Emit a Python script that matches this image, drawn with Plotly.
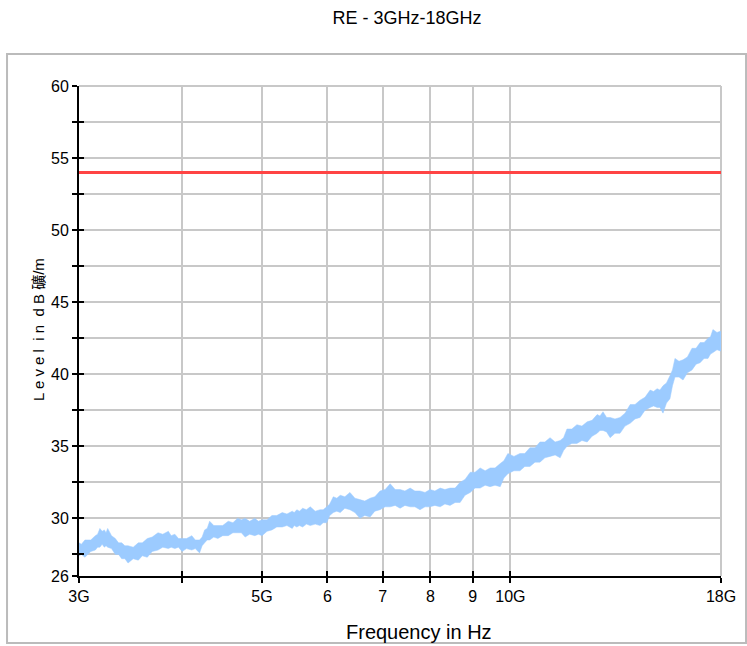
import plotly.graph_objects as go

# Frequency in GHz (peak samples of the noisy trace)
freq_ghz = [3.00, 3.05, 3.14, 3.18, 3.22, 3.25, 3.32, 3.38, 3.44, 3.54, 3.63, 3.74, 3.85, 3.92,
            4.00, 4.11, 4.20, 4.26, 4.32, 4.42, 4.55, 4.67, 4.77, 4.90, 5.00, 5.14, 5.29, 5.44,
            5.51, 5.60, 5.72, 5.88, 5.99, 6.10, 6.22, 6.39, 6.57, 6.76, 6.95, 7.15, 7.35, 7.56,
            7.77, 7.99, 8.22, 8.45, 8.69, 8.94, 9.19, 9.45, 9.72, 9.93, 10.27, 10.56, 10.86,
            11.17, 11.49, 11.71, 12.04, 12.39, 12.74, 12.95, 13.21, 13.58, 13.97, 14.36, 14.77,
            15.06, 15.31, 15.61, 15.83, 16.19, 16.60, 16.98, 17.36, 17.60, 18.00]

level_hi = [28.3, 28.5, 28.8, 29.3, 29.2, 29.3, 28.6, 28.3, 28.1, 28.3, 28.6, 29.0, 29.1, 28.9,
            28.6, 28.8, 28.5, 29.2, 29.8, 29.5, 29.8, 30.0, 30.0, 30.0, 29.9, 30.2, 30.4, 30.5,
            30.6, 30.7, 30.8, 30.6, 30.8, 31.5, 31.6, 31.8, 31.3, 31.4, 31.9, 32.4, 32.0, 32.1,
            31.9, 32.0, 32.1, 32.1, 32.5, 33.2, 33.5, 33.5, 33.8, 34.5, 34.5, 34.9, 35.3,
            35.6, 35.4, 36.2, 36.5, 36.7, 37.2, 37.4, 37.0, 37.0, 37.9, 38.2, 38.9,
            39.0, 39.2, 39.9, 41.1, 41.0, 41.8, 42.2, 42.5, 43.1, 43.0]

level_lo = [27.4, 27.3, 27.8, 28.0, 28.0, 28.0, 27.5, 27.2, 26.9, 27.1, 27.3, 27.8, 27.9, 27.9,
            27.7, 27.8, 27.6, 28.3, 28.5, 28.6, 28.8, 29.0, 28.7, 28.8, 28.8, 29.2, 29.4, 29.3,
            29.4, 29.4, 29.5, 29.5, 29.7, 30.4, 30.4, 30.6, 30.0, 30.1, 30.6, 30.8, 30.7, 30.8,
            30.6, 30.8, 30.8, 30.9, 31.1, 31.8, 32.1, 32.2, 32.2, 33.1, 33.3, 33.6, 33.9,
            34.3, 34.2, 35.0, 35.2, 35.3, 35.9, 36.1, 35.6, 35.9, 36.6, 37.0, 37.7,
            37.7, 37.3, 38.3, 39.8, 39.6, 40.3, 40.8, 41.1, 41.5, 41.6]

# In-between samples (inner edge of the noise band)
freq_mid = [3.02, 3.10, 3.16, 3.20, 3.235, 3.285, 3.35, 3.41, 3.49, 3.58, 3.68, 3.79, 3.88, 3.96,
            4.05, 4.15, 4.23, 4.29, 4.37, 4.48, 4.61, 4.72, 4.83, 4.95, 5.07, 5.21, 5.36, 5.47,
            5.55, 5.66, 5.80, 5.93, 6.04, 6.16, 6.30, 6.48, 6.66, 6.85, 7.05, 7.25, 7.45, 7.66,
            7.88, 8.10, 8.33, 8.57, 8.81, 9.06, 9.32, 9.58, 9.82, 10.10, 10.41, 10.71, 11.01,
            11.33, 11.60, 11.87, 12.21, 12.56, 12.84, 13.08, 13.39, 13.77, 14.16, 14.56, 14.91,
            15.18, 15.46, 15.72, 16.01, 16.39, 16.79, 17.17, 17.48, 17.80]

mid_hi = [28.2, 28.5, 28.9, 29.1, 29.0, 28.8, 28.3, 28.1, 28.0, 28.3,
          28.7, 28.9, 28.8, 28.6, 28.6, 28.5, 28.7, 29.3, 29.5, 29.5,
          29.7, 29.9, 29.8, 29.8, 29.9, 30.2, 30.3, 30.4, 30.5, 30.6,
          30.5, 30.6, 31.0, 31.4, 31.5, 31.4, 31.2, 31.5, 32.0, 32.0,
          31.9, 31.9, 31.8, 31.9, 32.0, 32.1, 32.7, 33.2, 33.3, 33.5,
          34.0, 34.3, 34.5, 34.9, 35.3, 35.3, 35.6, 36.2, 36.4, 36.8,
          37.1, 37.0, 36.9, 37.3, 37.9, 38.4, 38.8, 38.9, 39.4, 40.3,
          40.9, 41.2, 41.8, 42.2, 42.6, 42.9]

mid_lo = [27.5, 27.7, 28.0, 28.2, 28.1, 27.9, 27.5, 27.2, 27.2, 27.4,
          27.7, 28.0, 28.0, 28.0, 27.9, 27.9, 28.1, 28.5, 28.7, 28.8,
          29.0, 29.0, 28.9, 28.9, 29.1, 29.4, 29.5, 29.5, 29.5, 29.6,
          29.6, 29.7, 30.2, 30.5, 30.7, 30.4, 30.2, 30.5, 30.8, 30.9,
          30.9, 30.8, 30.8, 30.9, 31.0, 31.1, 31.6, 32.1, 32.3, 32.3,
          32.8, 33.3, 33.6, 33.9, 34.2, 34.4, 34.7, 35.2, 35.4, 35.7,
          36.1, 36.0, 35.9, 36.4, 36.9, 37.5, 37.8, 37.7, 38.0, 39.2,
          39.8, 40.1, 40.7, 41.1, 41.4, 41.7]

limit_freq = [3.0, 18.0]
limit_level = [54.0, 54.0]

x_tickvals = [3, 4, 5, 6, 7, 8, 9, 10, 18]
x_ticktext = ["3G", "", "5G", "6", "7", "8", "9", "10G", "18G"]
y_tickvals = [26, 27.5, 30, 32.5, 35, 37.5, 40, 42.5, 45, 47.5, 50, 52.5, 55, 57.5, 60]
y_ticktext = ["26", "", "30", "", "35", "", "40", "", "45", "", "50", "", "55", "", "60"]

# merge peak and in-between samples in frequency order
rows = sorted(list(zip(freq_ghz, level_hi, level_lo)) + list(zip(freq_mid, mid_hi, mid_lo)))
band_f = [r[0] for r in rows]
band_hi = [r[1] for r in rows]
band_lo = [r[2] for r in rows]

FONT = "Liberation Sans, Arial, sans-serif"
BLUE = "#9ccbff"

fig = go.Figure()
fig.add_trace(go.Scatter(x=band_f, y=band_lo, mode="lines",
                         line=dict(color=BLUE, width=0.5), showlegend=False, hoverinfo="skip"))
fig.add_trace(go.Scatter(x=band_f, y=band_hi, mode="lines", fill="tonexty",
                         fillcolor=BLUE, line=dict(color=BLUE, width=0.5), showlegend=False))
fig.add_trace(go.Scatter(x=limit_freq, y=limit_level, mode="lines",
                         line=dict(color="#ff4444", width=3), showlegend=False))
# inside tick marks (overlay axes)
fig.add_trace(go.Scatter(x=[3], y=[26], xaxis="x2", yaxis="y2", mode="markers",
                         marker=dict(opacity=0), showlegend=False, hoverinfo="skip"))

axis_common = dict(showgrid=True, gridcolor="#c8c8c8", gridwidth=1.5, zeroline=False,
                   ticks="outside", ticklen=5, tickcolor="black", tickwidth=1.5,
                   showline=True, linecolor="black", linewidth=2, automargin=False,
                   tickfont=dict(family=FONT, size=16, color="black"))

fig.update_layout(
    width=747, height=646,
    margin=dict(l=79, r=26, t=86, b=70),
    paper_bgcolor="white", plot_bgcolor="white",
    title=dict(text="RE - 3GHz-18GHz", x=0.545, xanchor="center", y=0.972, yanchor="middle",
               font=dict(family=FONT, size=18, color="black")),
    xaxis=dict(type="log", range=[0.47712, 1.25527], tickmode="array",
               tickvals=x_tickvals, ticktext=x_ticktext, **axis_common),
    yaxis=dict(range=[26, 60], tickmode="array", tickvals=y_tickvals, ticktext=y_ticktext,
               ticklabelstandoff=0, **axis_common),
    xaxis2=dict(type="log", range=[0.47712, 1.25527], overlaying="x", anchor="y2", side="bottom",
                tickmode="array", tickvals=x_tickvals, ticks="inside", ticklen=5,
                tickcolor="black", tickwidth=1.5, showticklabels=False, showgrid=False,
                zeroline=False, automargin=False),
    yaxis2=dict(range=[26, 60], overlaying="y", anchor="x2", side="left",
                tickmode="array", tickvals=y_tickvals, ticks="inside", ticklen=5,
                tickcolor="black", tickwidth=1.5, showticklabels=False, showgrid=False,
                zeroline=False, automargin=False),
    shapes=[
        dict(type="rect", xref="paper", yref="paper", x0=-0.1121, x1=1.039, y0=-0.1367, y1=1.0653,
             line=dict(color="#bbbbbb", width=2), layer="below"),
        dict(type="line", xref="paper", yref="paper", x0=0, x1=1, y0=1, y1=1,
             line=dict(color="#c8c8c8", width=2), layer="below"),
        dict(type="line", xref="paper", yref="paper", x0=1, x1=1, y0=0, y1=1,
             line=dict(color="#c8c8c8", width=2), layer="below"),
    ],
    annotations=[
        dict(text="Frequency in Hz", xref="paper", yref="paper", x=0.5296, y=-0.114,
             xanchor="center", yanchor="middle", showarrow=False,
             font=dict(family=FONT, size=20, color="black")),
        dict(text="L e v e l  i n  d B 礦/m", xref="paper", yref="paper", x=-0.0639, y=0.504,
             xanchor="center", yanchor="middle", textangle=-90, showarrow=False,
             font=dict(family=FONT + ", Noto Sans CJK SC", size=15, color="black")),
    ],
)

fig.write_html("out.html", config={"displayModeBar": False},
               post_script="document.body.style.margin='0';document.body.style.overflow='hidden';")
